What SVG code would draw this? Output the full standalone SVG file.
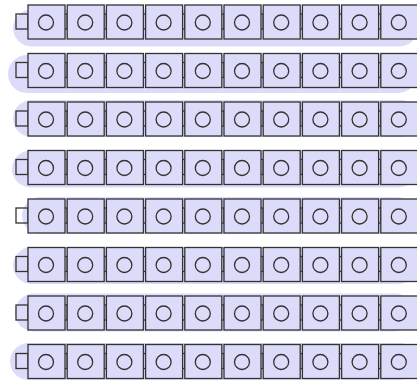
<svg xmlns="http://www.w3.org/2000/svg" xmlns:xlink="http://www.w3.org/1999/xlink" width="417" height="383" viewBox="0 0 417 383">
<style>
.blob{fill:#dcdcfa;stroke:none}
.sq{fill:#dcdcfa;stroke:#333;stroke-width:1.3}
.tab{fill:none;stroke:#333;stroke-width:1.3}
.ci{fill:none;stroke:#333;stroke-width:1.3}
</style>
<defs>
<g id="cell">
<rect class="tab" x="-12" y="9" width="12" height="15"/>
<rect class="sq" x="0" y="0" width="37" height="34"/>
<circle class="ci" cx="18" cy="17.5" r="7.5"/>
</g>
<g id="row">
<use xlink:href="#cell" x="352.8"/>
<use xlink:href="#cell" x="313.6"/>
<use xlink:href="#cell" x="274.4"/>
<use xlink:href="#cell" x="235.2"/>
<use xlink:href="#cell" x="196"/>
<use xlink:href="#cell" x="156.8"/>
<use xlink:href="#cell" x="117.6"/>
<use xlink:href="#cell" x="78.4"/>
<use xlink:href="#cell" x="39.2"/>
<use xlink:href="#cell" x="0"/>
</g>
</defs>
<g id="backgrounds">
<rect class="blob" x="13" y="9.5" width="405" height="37" rx="18.5"/>
<rect class="blob" x="8" y="55" width="409" height="38" rx="19"/>
<rect class="blob" x="13" y="100" width="406" height="37" rx="18.5"/>
<rect class="blob" x="12" y="150.5" width="405" height="37" rx="18.5"/>
<rect class="blob" x="22" y="197" width="393" height="37" rx="18.5"/>
<rect class="blob" x="13" y="247" width="404" height="37" rx="18.5"/>
<rect class="blob" x="15" y="293.5" width="399" height="38" rx="19"/>
<rect class="blob" x="10" y="343" width="408" height="37" rx="18.5"/>
</g>
<g id="connectors"/>
<g id="row1"><use xlink:href="#row" x="28" y="5"/></g>
<g id="row2"><use xlink:href="#row" x="28" y="53.5"/></g>
<g id="row3"><use xlink:href="#row" x="28" y="102"/></g>
<g id="row4"><use xlink:href="#row" x="28" y="150.5"/></g>
<g id="row5"><use xlink:href="#row" x="28" y="199"/></g>
<g id="row6"><use xlink:href="#row" x="28" y="247.5"/></g>
<g id="row7"><use xlink:href="#row" x="28" y="296"/></g>
<g id="row8"><use xlink:href="#row" x="28" y="344.5"/></g>
</svg>
